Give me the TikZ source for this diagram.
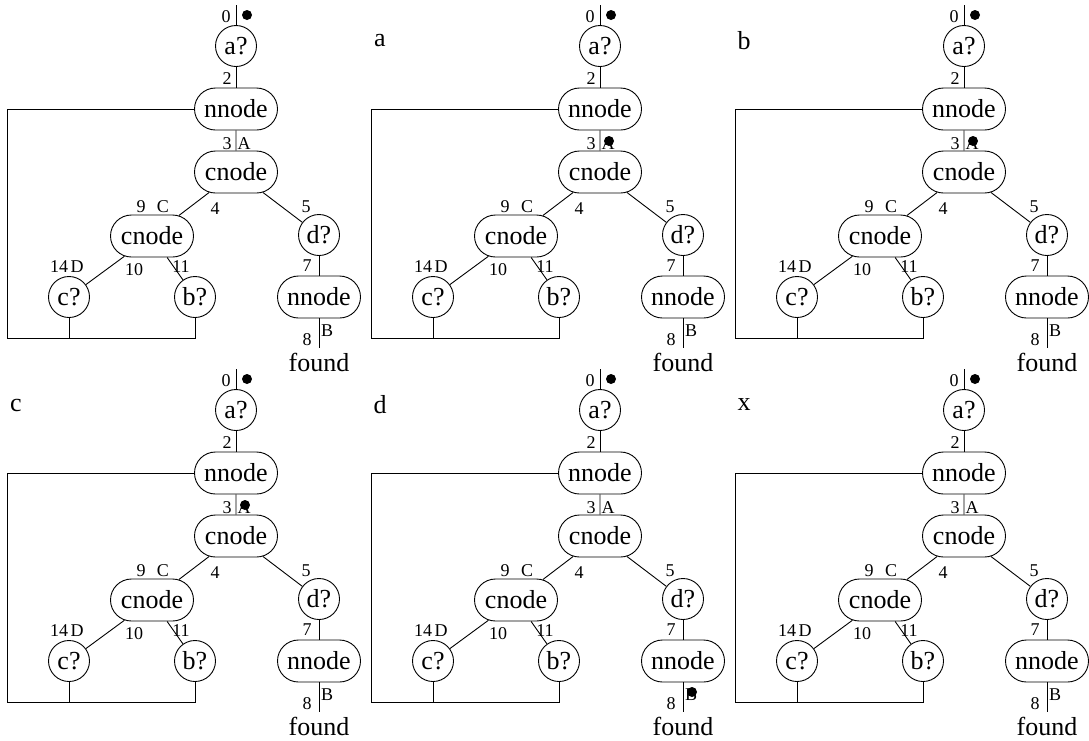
\documentclass[tikz,border=0pt]{standalone}
\usepackage{fontspec}
\setmainfont{Liberation Serif}
\usetikzlibrary{shapes.misc}
\newcommand\bigfnt{\fontsize{26}{28}\selectfont}
\newcommand\smallfnt{\fontsize{18}{20}\selectfont}
\tikzset{
  circnode/.style={circle, draw, line width=0.9pt, minimum size=41pt, inner sep=0pt, font=\bigfnt},
  boxnode/.style={rounded rectangle, draw, line width=0.9pt, minimum width=83pt, minimum height=42pt, inner sep=0pt, font=\bigfnt},
  lbl/.style={inner sep=0pt, font=\smallfnt},
  plaintext/.style={inner sep=0pt, font=\bigfnt},
  dotmark/.style={circle, fill=black, minimum size=10pt, inner sep=0pt},
  wire/.style={line width=0.9pt},
}
\newcommand\drawpanel[5]{%
\begin{scope}[shift={(#2,#3)}, name prefix=#1-]
  \coordinate (top) at (236,5);
  \node[circnode] (a) at (236,46) {a?};
  \node[boxnode] (nn) at (236,109) {nnode};
  \node[boxnode] (cn) at (236,172) {cnode};
  \node[boxnode] (cn2) at (152,236) {cnode};
  \node[circnode] (d) at (319,235) {d?};
  \node[circnode] (c) at (69,297) {c?};
  \node[circnode] (b) at (195,297) {b?};
  \node[boxnode] (nn2) at (319,297) {nnode};
  \coordinate (bot) at (319,348);
  \node[plaintext] (found) at (319,362) {found};
  \coordinate (ll) at (7,338);
  \coordinate (cb) at (69,338);
  \draw[wire] (top) -- (a);
  \draw[wire] (a) -- (nn);
  \draw[wire] (nn) -- (cn);
  \draw[wire] (cn) -- (cn2);
  \draw[wire] (cn) -- (d);
  \draw[wire] (cn2) -- (c);
  \draw[wire] (cn2) -- (b);
  \draw[wire] (d) -- (nn2);
  \draw[wire] (nn2) -- (bot);
  \draw[wire] (nn.west) -| (ll) -| (b.south);
  \draw[wire] (c) -- (cb);
  \node[lbl] (l0) at (226,17) {0};
  \node[dotmark] (start) at (247,15) {};
  \node[lbl] (l2) at (227,79) {2};
  \node[lbl] (l3) at (227,144) {3};
  \node[lbl] (lA) at (244,144) {A};
  \node[lbl] (l9) at (141,207) {9};
  \node[lbl] (lC) at (163,207) {C};
  \node[lbl] (l4) at (215,209) {4};
  \node[lbl] (l5) at (306,207) {5};
  \node[lbl] (l14) at (59,267) {14};
  \node[lbl] (lD) at (77,267) {D};
  \node[lbl] (l10) at (134,270) {10};
  \node[lbl] (l11) at (181,267) {11};
  \node[lbl] (l7) at (307,266) {7};
  \node[lbl] (l8) at (307,340) {8};
  \node[lbl] (lB) at (327,331) {B};
  \node[plaintext] (title) at (16,41) {#4};
  #5
\end{scope}}
\begin{document}
\begin{tikzpicture}[x=1pt, y=-1pt]
\path[use as bounding box] (0,0) rectangle (1089,740);
\drawpanel{p1}{0}{0}{}{}
\drawpanel{p2}{364}{0}{a}{\node[dotmark] (mA) at (245,141) {};}
\drawpanel{p3}{728}{0}{b}{\node[dotmark] (mA) at (245,141) {};}
\drawpanel{p4}{0}{364}{c}{\node[dotmark] (mA) at (245,141) {};}
\drawpanel{p5}{364}{364}{d}{\node[dotmark] (mB) at (328,328) {};}
\drawpanel{p6}{728}{364}{x}{}
\end{tikzpicture}
\end{document}
